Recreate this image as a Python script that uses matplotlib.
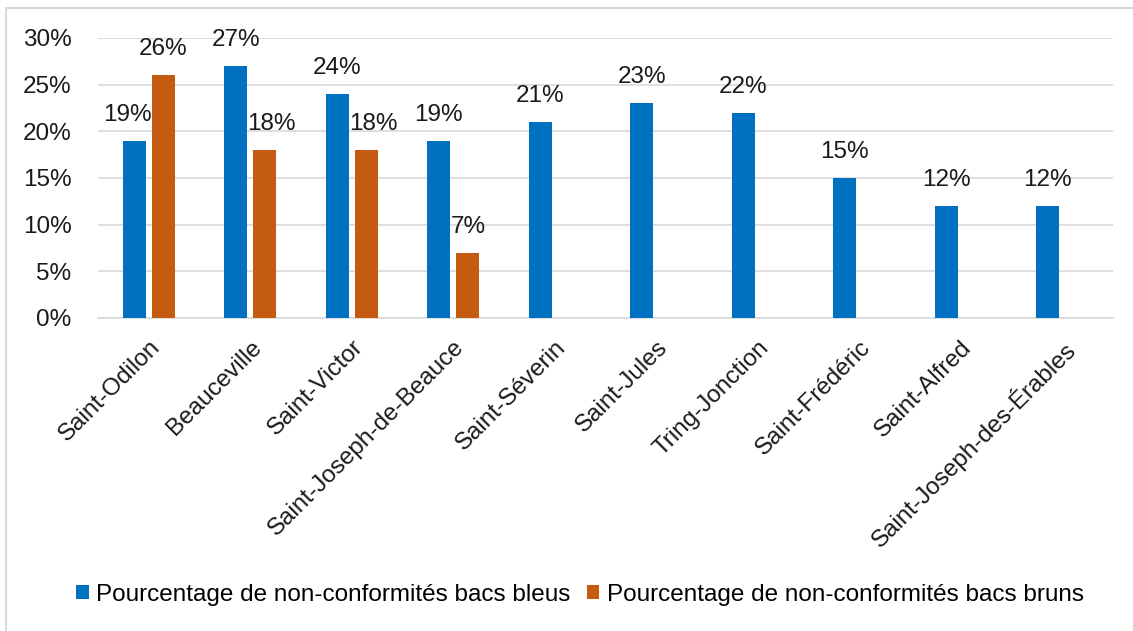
import numpy as np
import matplotlib
matplotlib.use("Agg")
import matplotlib.pyplot as plt
from matplotlib.patches import Rectangle
from matplotlib.ticker import PercentFormatter

# data
municipalites = ["Saint-Odilon", "Beauceville", "Saint-Victor", "Saint-Joseph-de-Beauce",
                 "Saint-Séverin", "Saint-Jules", "Tring-Jonction", "Saint-Frédéric",
                 "Saint-Alfred", "Saint-Joseph-des-Érables"]
bacs_bleus = [19, 27, 24, 19, 21, 23, 22, 15, 12, 12]
bacs_bruns = [26, 18, 18, 7, None, None, None, None, None, None]
serie_labels = ["Pourcentage de non-conformités bacs bleus",
                "Pourcentage de non-conformités bacs bruns"]
yticks = [0, 5, 10, 15, 20, 25, 30]

BLUE = "#0070C0"
ORANGE = "#C55A11"
GRID = "#D9D9D9"
FS = 17.5

plt.rcParams["font.family"] = ["Liberation Sans", "DejaVu Sans"]

fig = plt.figure(figsize=(11.33, 6.31), dpi=100)
ax = fig.add_axes([98/1133, 1 - 318/631, (1113 - 98)/1133, (318 - 38)/631])

x = np.arange(len(municipalites))
w, off = 0.23, 0.143

b1 = ax.bar(x - off, bacs_bleus, w, color=BLUE, label=serie_labels[0], zorder=3)
idx = [i for i, v in enumerate(bacs_bruns) if v is not None]
vals_b = [bacs_bruns[i] for i in idx]
b2 = ax.bar(x[idx] + off, vals_b, w, color=ORANGE, label=serie_labels[1], zorder=3)

ann = []
for bars, vals in ((b1, bacs_bleus), (b2, vals_b)):
    for b, v in zip(bars, vals):
        t = ax.annotate(f"{v}%", (b.get_x() + b.get_width()/2, v), xytext=(0, 14.5),
                        textcoords="offset points", ha="center", va="baseline",
                        fontsize=FS, color="#1a1a1a")
        ann.append((t, b))

ax.set_xlim(-0.5, len(municipalites) - 0.5)
ax.set_ylim(0, 30)
ax.set_yticks(yticks)
ax.yaxis.set_major_formatter(PercentFormatter(decimals=0))
ax.grid(axis="y", color=GRID, linewidth=1.2, zorder=0)
for s in ["top", "right", "left"]:
    ax.spines[s].set_visible(False)
ax.spines["bottom"].set_color(GRID)
ax.spines["bottom"].set_linewidth(1.2)
ax.tick_params(axis="both", length=0, labelsize=FS, colors="#1a1a1a")
ax.tick_params(axis="y", pad=19)
ax.tick_params(axis="x", pad=13)
ax.set_xticks(x)
ax.set_xticklabels(municipalites, rotation=45, ha="right", va="top", rotation_mode="anchor")

fig.legend(handles=[b1, b2], labels=serie_labels, loc="center", bbox_to_anchor=(580/1133, 1 - 595/631),
           ncol=2, frameon=False, fontsize=FS, handlelength=0.5, handleheight=0.5,
           handletextpad=0.3, columnspacing=0.7)

# nudge value labels sideways when they run into a neighbouring bar (like Excel does)
fig.canvas.draw()
r = fig.canvas.get_renderer()
all_bars = list(b1) + list(b2)
for t, own in ann:
    tb = t.get_window_extent(r)
    for b in all_bars:
        if b is own:
            continue
        bb = b.get_window_extent(r)
        if bb.y1 > tb.y0 and bb.x0 < tb.x1 and bb.x1 > tb.x0:
            if bb.x0 > own.get_window_extent(r).x0:
                dx = bb.x0 - tb.x1
            else:
                dx = bb.x1 - tb.x0
            t.xyann = (t.xyann[0] + dx * 72 / fig.dpi, t.xyann[1])

# light frame around the chart
fig.patches.append(Rectangle((6/1133, -0.05), 1.1, 1 - 8/631 + 0.05, transform=fig.transFigure,
                             fill=False, edgecolor=GRID, linewidth=1.5))

fig.savefig("out.png", dpi=100, facecolor="white")
